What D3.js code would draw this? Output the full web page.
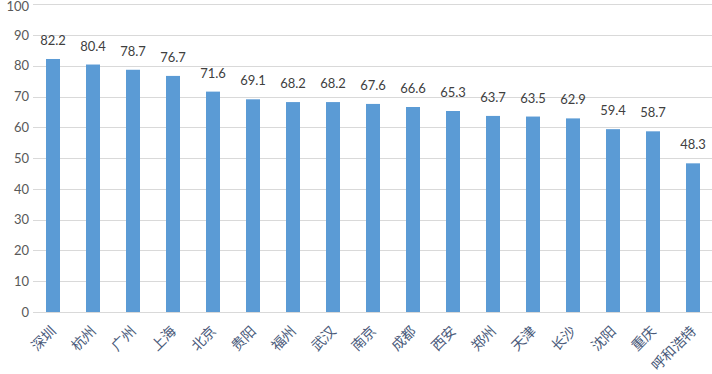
<!DOCTYPE html>
<html><head><meta charset="utf-8">
<script src="https://cdn.jsdelivr.net/npm/d3@7"></script>
<style>body{margin:0;background:#fff}svg{display:block}</style>
</head><body>
<svg id="c" width="712" height="374"></svg>
<script>
const categories = ["深圳","杭州","广州","上海","北京","贵阳","福州","武汉","南京","成都","西安","郑州","天津","长沙","沈阳","重庆","呼和浩特"];
const values = [82.2,80.4,78.7,76.7,71.6,69.1,68.2,68.2,67.6,66.6,65.3,63.7,63.5,62.9,59.4,58.7,48.3];
const yTicks = [0,10,20,30,40,50,60,70,80,90,100];

(function(){
const svg = d3.select("#c");
const mLeft = 33, mRight = 713, mTop = 4.2, mBottom = 312;
const x = d3.scaleBand().domain(categories).range([mLeft, mRight]).paddingInner(0.65).paddingOuter(0.325);
const y = d3.scaleLinear().domain([0,100]).range([mBottom, mTop]);

const grid = svg.append("g");
grid.selectAll("line").data(yTicks).join("line")
  .attr("x1", mLeft).attr("x2", 712)
  .attr("y1", d => Math.round(y(d)) + 0.5).attr("y2", d => Math.round(y(d)) + 0.5)
  .attr("stroke", "#d9d9d9").attr("stroke-width", 1);

const yAxis = d3.axisLeft(y).tickValues(yTicks).tickSize(0).tickPadding(0);
const ya = svg.append("g").attr("transform", `translate(${mLeft-4},0)`).call(yAxis);
ya.select(".domain").remove();
ya.selectAll("text").attr("font-family","Lato, 'Open Sans', sans-serif").attr("font-size","13px").attr("fill","#595959");
ya.selectAll("text").filter(d => d === 100).attr("dy","0.5em");

svg.append("g").selectAll("rect").data(values).join("rect")
  .attr("x", (d,i) => x(categories[i])).attr("width", x.bandwidth())
  .attr("y", d => y(d)).attr("height", d => mBottom - y(d))
  .attr("fill", "#5b9bd5");

svg.append("g").selectAll("text").data(values).join("text")
  .attr("x", (d,i) => x(categories[i]) + x.bandwidth()/2)
  .attr("y", d => y(d) - 14)
  .attr("text-anchor","middle")
  .attr("font-family","Lato, 'Open Sans', sans-serif").attr("font-size","13px").attr("fill","#404040")
  .text(d => d.toFixed(1));

const xAxis = d3.axisBottom(x).tickSize(0).tickPadding(0);
const xa = svg.append("g").attr("transform", `translate(0,${mBottom})`).call(xAxis);
xa.select(".domain").attr("stroke","#d9d9d9").attr("d", `M${mLeft},0.5H712`);
xa.selectAll("text")
  .attr("font-family","'Noto Sans CJK SC', sans-serif").attr("font-size","14px").attr("fill","#4a5a7a")
  .attr("text-anchor","end").attr("dy","0")
  .attr("transform","translate(4,20) rotate(-45)");
})();
</script>
</body></html>
